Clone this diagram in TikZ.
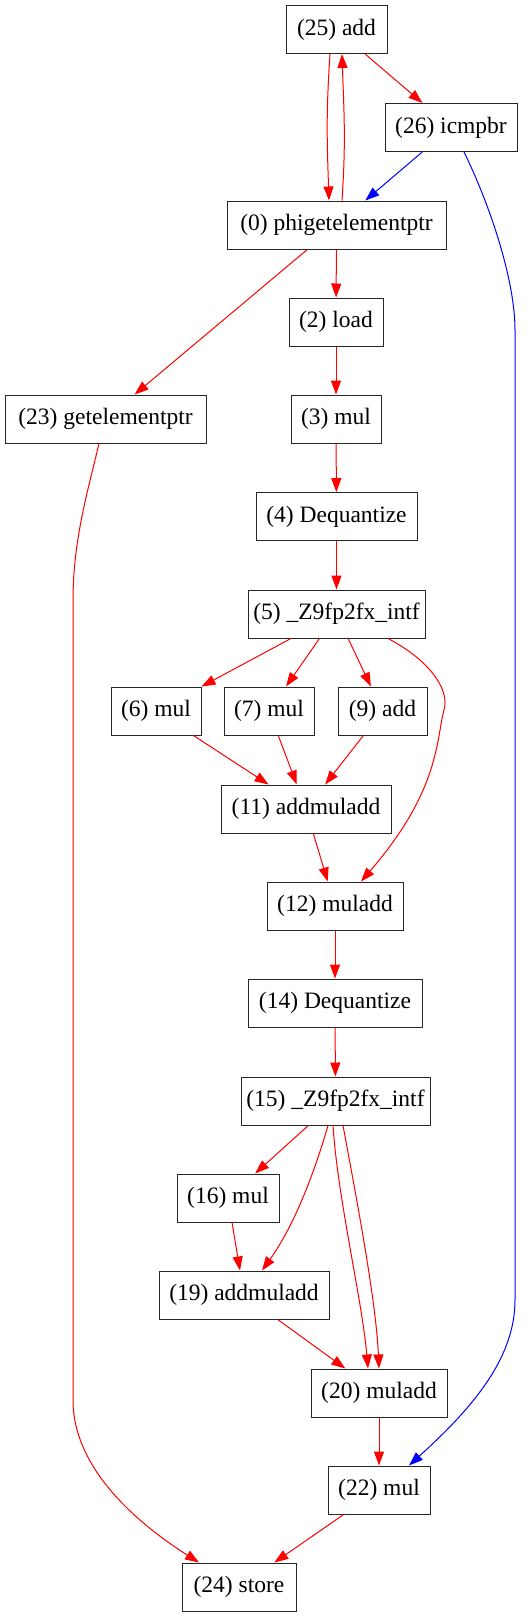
\documentclass[tikz,border=0pt]{standalone}
\usepackage{fontspec}
\setmainfont{Liberation Serif}
\usetikzlibrary{arrows.meta}
\tikzset{
  box/.style={draw=black!85, line width=1pt, rectangle, minimum height=48pt, inner sep=0pt,
    font=\fontsize{23.5}{28}\selectfont},
  arr/.style={line width=1pt, -{Triangle[length=14pt,width=10pt]}},
  re/.style={arr, draw=red, fill=none, -{Triangle[length=14pt,width=10pt,fill=red]}},
  be/.style={arr, draw=blue, -{Triangle[length=14pt,width=10pt,fill=blue]}}
}
\begin{document}
\begin{tikzpicture}[x=1pt,y=1pt]
\useasboundingbox (0,0) rectangle (528,-1617);
\fill[white] (0,0) rectangle (528,-1617);
% nodes
\node[box, minimum width=101pt] (n25) at (336.5,-29.5) {(25) add};
\node[box, minimum width=132pt] (n26) at (451,-127.5) {(26) icmpbr};
\node[box, minimum width=219pt] (n0) at (336.5,-225) {(0) phigetelementptr};
\node[box, minimum width=94pt] (n2) at (336,-322) {(2) load};
\node[box, minimum width=201pt] (n23) at (105.5,-419) {(23) getelementptr};
\node[box, minimum width=90pt] (n3) at (336,-419) {(3) mul};
\node[box, minimum width=161pt] (n4) at (336.5,-516.5) {(4) Dequantize};
\node[box, minimum width=177pt] (n5) at (336.5,-614) {(5) \_Z9fp2fx\_intf};
\node[box, minimum width=90pt] (n6) at (156,-711) {(6) mul};
\node[box, minimum width=90pt] (n7) at (269,-711) {(7) mul};
\node[box, minimum width=89pt] (n9) at (382.5,-711) {(9) add};
\node[box, minimum width=170pt] (n11) at (306,-809) {(11) addmuladd};
\node[box, minimum width=136pt] (n12) at (335,-906) {(12) muladd};
\node[box, minimum width=174pt] (n14) at (335,-1003) {(14) Dequantize};
\node[box, minimum width=189pt] (n15) at (335.5,-1101) {(15) \_Z9fp2fx\_intf};
\node[box, minimum width=102pt] (n16) at (228,-1198) {(16) mul};
\node[box, minimum width=170pt] (n19) at (244,-1295) {(19) addmuladd};
\node[box, minimum width=136pt] (n20) at (379,-1393) {(20) muladd};
\node[box, minimum width=102pt] (n22) at (379,-1490) {(22) mul};
\node[box, minimum width=114pt] (n24) at (239,-1587) {(24) store};
% edges
\draw[re] ([xshift=-6.5pt]n25.south) .. controls +(-4,-60) and +(-2,60) .. ([xshift=-7.5pt]n0.north);
\draw[re] ([xshift=5.5pt]n0.north) .. controls +(4,60) and +(2,-60) .. ([xshift=5.5pt]n25.south);
\draw[re] (n25) -- (n26);
\draw[be] (n26) -- (n0);
\draw[be] ([xshift=13pt]n26.south) .. controls +(26,-53) and +(0,50) .. (515,-330)
  -- (515,-1300) .. controls (515,-1360) and (470,-1410) .. ([xshift=30pt]n22.north);
\draw[re] (n0) -- (n2);
\draw[re] (n0) -- (n23);
\draw[re] (n2) -- (n3);
\draw[re] (n3) -- (n4);
\draw[re] (n4) -- (n5);
\draw[re] ([xshift=-6.5pt]n23.south) .. controls +(-11,-47) and +(0,60) .. (73,-600)
  -- (73,-1400) .. controls (73,-1470) and (140,-1525) .. ([xshift=-40pt]n24.north);
\draw[re] (n5) -- (n6);
\draw[re] (n5) -- (n7);
\draw[re] (n5) -- (n9);
\draw[re] ([xshift=51.5pt]n5.south) .. controls +(42,-22) and +(6,20) .. (444,-710)
  .. controls (436,-740) and (440,-790) .. ([xshift=26pt]n12.north);
\draw[re] (n6) -- (n11);
\draw[re] (n7) -- (n11);
\draw[re] (n9) -- (n11);
\draw[re] (n11) -- (n12);
\draw[re] (n12) -- (n14);
\draw[re] (n14) -- (n15);
\draw[re] (n15) -- (n16);
\draw[re] ([xshift=-7.5pt]n15.south) .. controls +(-13,-45) and +(33,46) .. ([xshift=18pt]n19.north);
\draw[re] (n16) -- (n19);
\draw[re] ([xshift=-2.5pt]n15.south) .. controls +(5,-75) and +(-6,69) .. ([xshift=-11pt]n20.north);
\draw[re] ([xshift=7.5pt]n15.south) .. controls +(12,-65) and +(-3,69) .. (n20.north);
\draw[re] (n19) -- (n20);
\draw[re] (n20) -- (n22);
\draw[re] (n22) -- (n24);
\end{tikzpicture}
\end{document}
